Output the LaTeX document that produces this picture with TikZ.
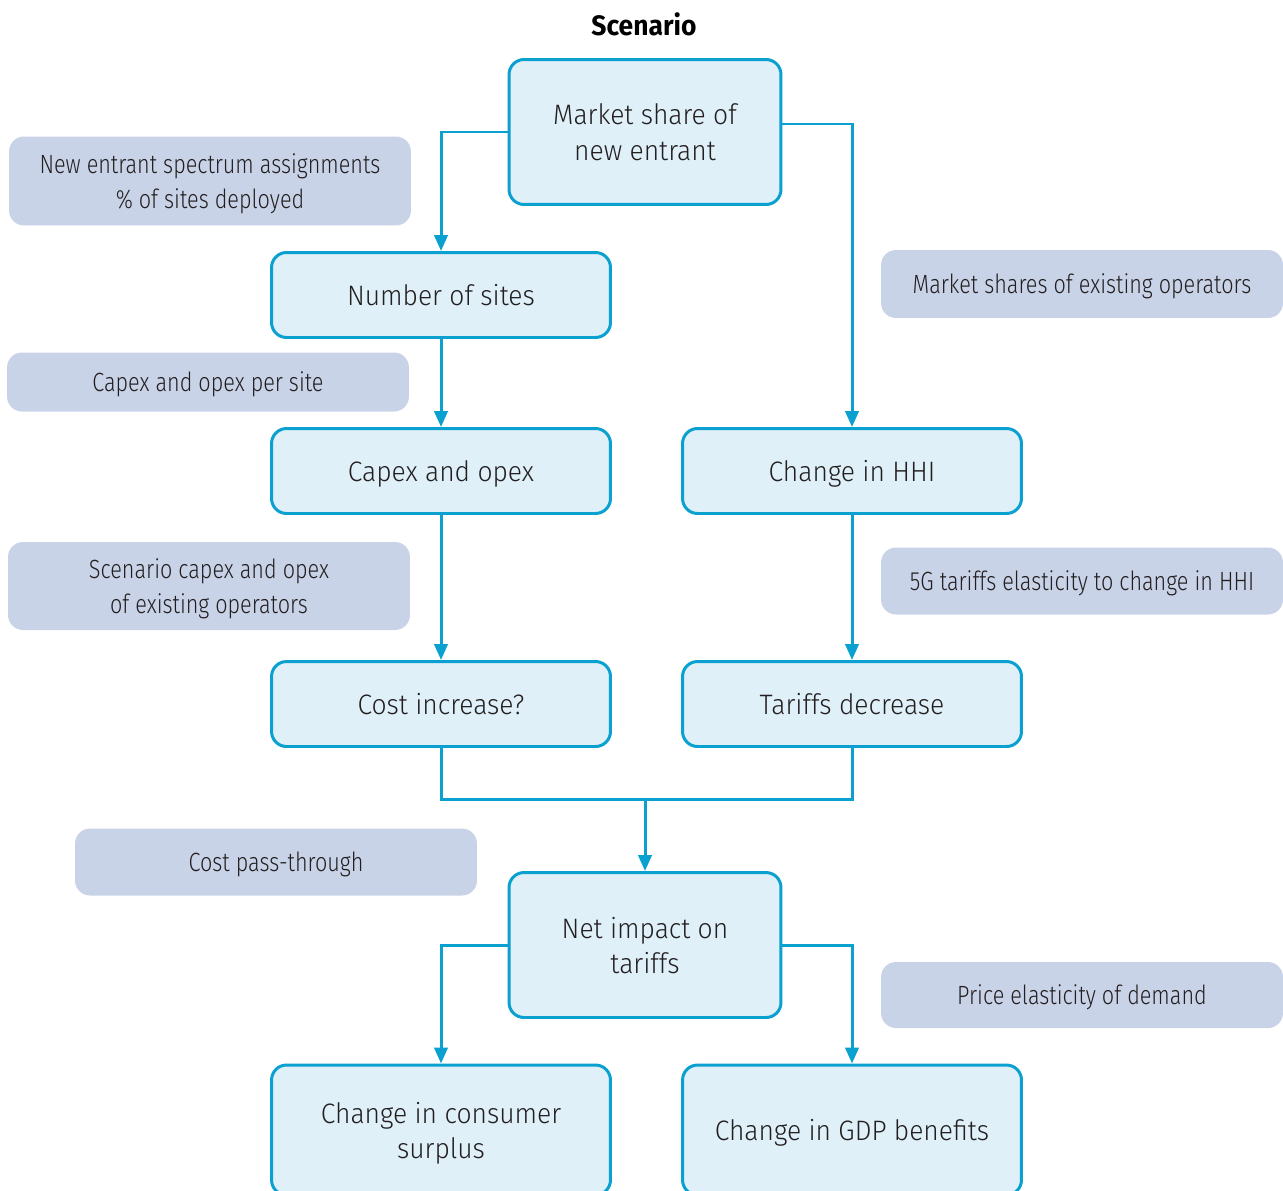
\documentclass[tikz,border=0pt]{standalone}
\usepackage{fontspec}
\setmainfont{Fira Sans}[UprightFont=* Light, BoldFont=* Bold, FakeStretch=0.94]
\newfontfamily\narrowfont{Fira Sans}[UprightFont=* Light, FakeStretch=0.82]
\usetikzlibrary{arrows.meta}
\definecolor{flowblue}{HTML}{0AA0CF}
\definecolor{boxfill}{HTML}{DFF0F9}
\definecolor{notefill}{HTML}{C9D3E8}
\definecolor{textgray}{HTML}{231F20}
\tikzset{
	stepbox/.style={draw=flowblue, fill=boxfill, line width=1.7pt, rounded corners=0.3cm,
		minimum width=6.78cm, minimum height=1.7cm, inner sep=0pt, align=center,
		text=textgray, text depth=0pt, font=\fontsize{16}{20}\selectfont},
	notebox/.style={fill=notefill, rounded corners=0.3cm, minimum width=8.04cm,
		inner sep=0pt, align=center, text=textgray, text depth=0pt,
		font=\narrowfont\fontsize{15}{19.5}\selectfont},
	flow/.style={draw=flowblue, line width=1.7pt},
	arrow/.style={flow, -{Triangle[length=9pt,width=7.5pt]}},
}
\begin{document}
\begin{tikzpicture}[x=0.02cm, y=-0.02cm]
		\useasboundingbox (0,0) rectangle (1283,1190);
		\node[font=\bfseries\fontsize{16}{20}\selectfont, text=black] (title) at (644,24) {Scenario};
		
		% main steps
		\node[stepbox, minimum width=5.44cm, minimum height=2.9cm] (share) at (645,132) {Market share of\\new entrant};
		\node[stepbox] (sites) at (441,295) {Number of sites};
		\node[stepbox] (capex) at (441,471) {Capex and opex};
		\node[stepbox] (hhi) at (852,471) {Change in HHI};
		\node[stepbox] (cost) at (441,704) {Cost increase?};
		\node[stepbox] (tariff) at (852,704) {Tariffs decrease};
		\node[stepbox, minimum width=5.44cm, minimum height=2.9cm] (net) at (645,945) {Net impact on\\tariffs};
		\node[stepbox, minimum height=2.6cm] (surplus) at (441,1130) {Change in consumer\\surplus};
		\node[stepbox, minimum height=2.6cm] (gdp) at (852,1130) {Change in GDP benefits};
		
		% inputs
		\node[notebox, minimum height=1.78cm] (spectrum) at (210,181) {New entrant spectrum assignments\\\% of sites deployed};
		\node[notebox, minimum height=1.18cm] (persite) at (208,382) {Capex and opex per site};
		\node[notebox, minimum height=1.76cm] (existing) at (209,586) {Scenario capex and opex\\of existing operators};
		\node[notebox, minimum height=1.34cm] (passthru) at (276,862) {Cost pass-through};
		\node[notebox, minimum height=1.36cm] (shares) at (1082,284) {Market shares of existing operators};
		\node[notebox, minimum height=1.34cm] (elastic) at (1082,581) {5G tariffs elasticity to change in HHI};
		\node[notebox, minimum height=1.32cm] (demand) at (1082,995) {Price elasticity of demand};
		
		% connectors
		\draw[arrow] (share.west) -| (sites.north);
		\draw[arrow] ([yshift=0.16cm]share.east) -| (hhi.north);
		\draw[arrow] (sites) -- (capex);
		\draw[arrow] (capex) -- (cost);
		\draw[arrow] (hhi) -- (tariff);
		\coordinate (merge) at (645,799);
		\draw[flow] (cost.south) |- (merge) -| (tariff.south);
		\draw[arrow] (merge) -- (net.north);
		\draw[arrow] (net.west) -| (surplus.north);
		\draw[arrow] (net.east) -| (gdp.north);
\end{tikzpicture}
\end{document}
